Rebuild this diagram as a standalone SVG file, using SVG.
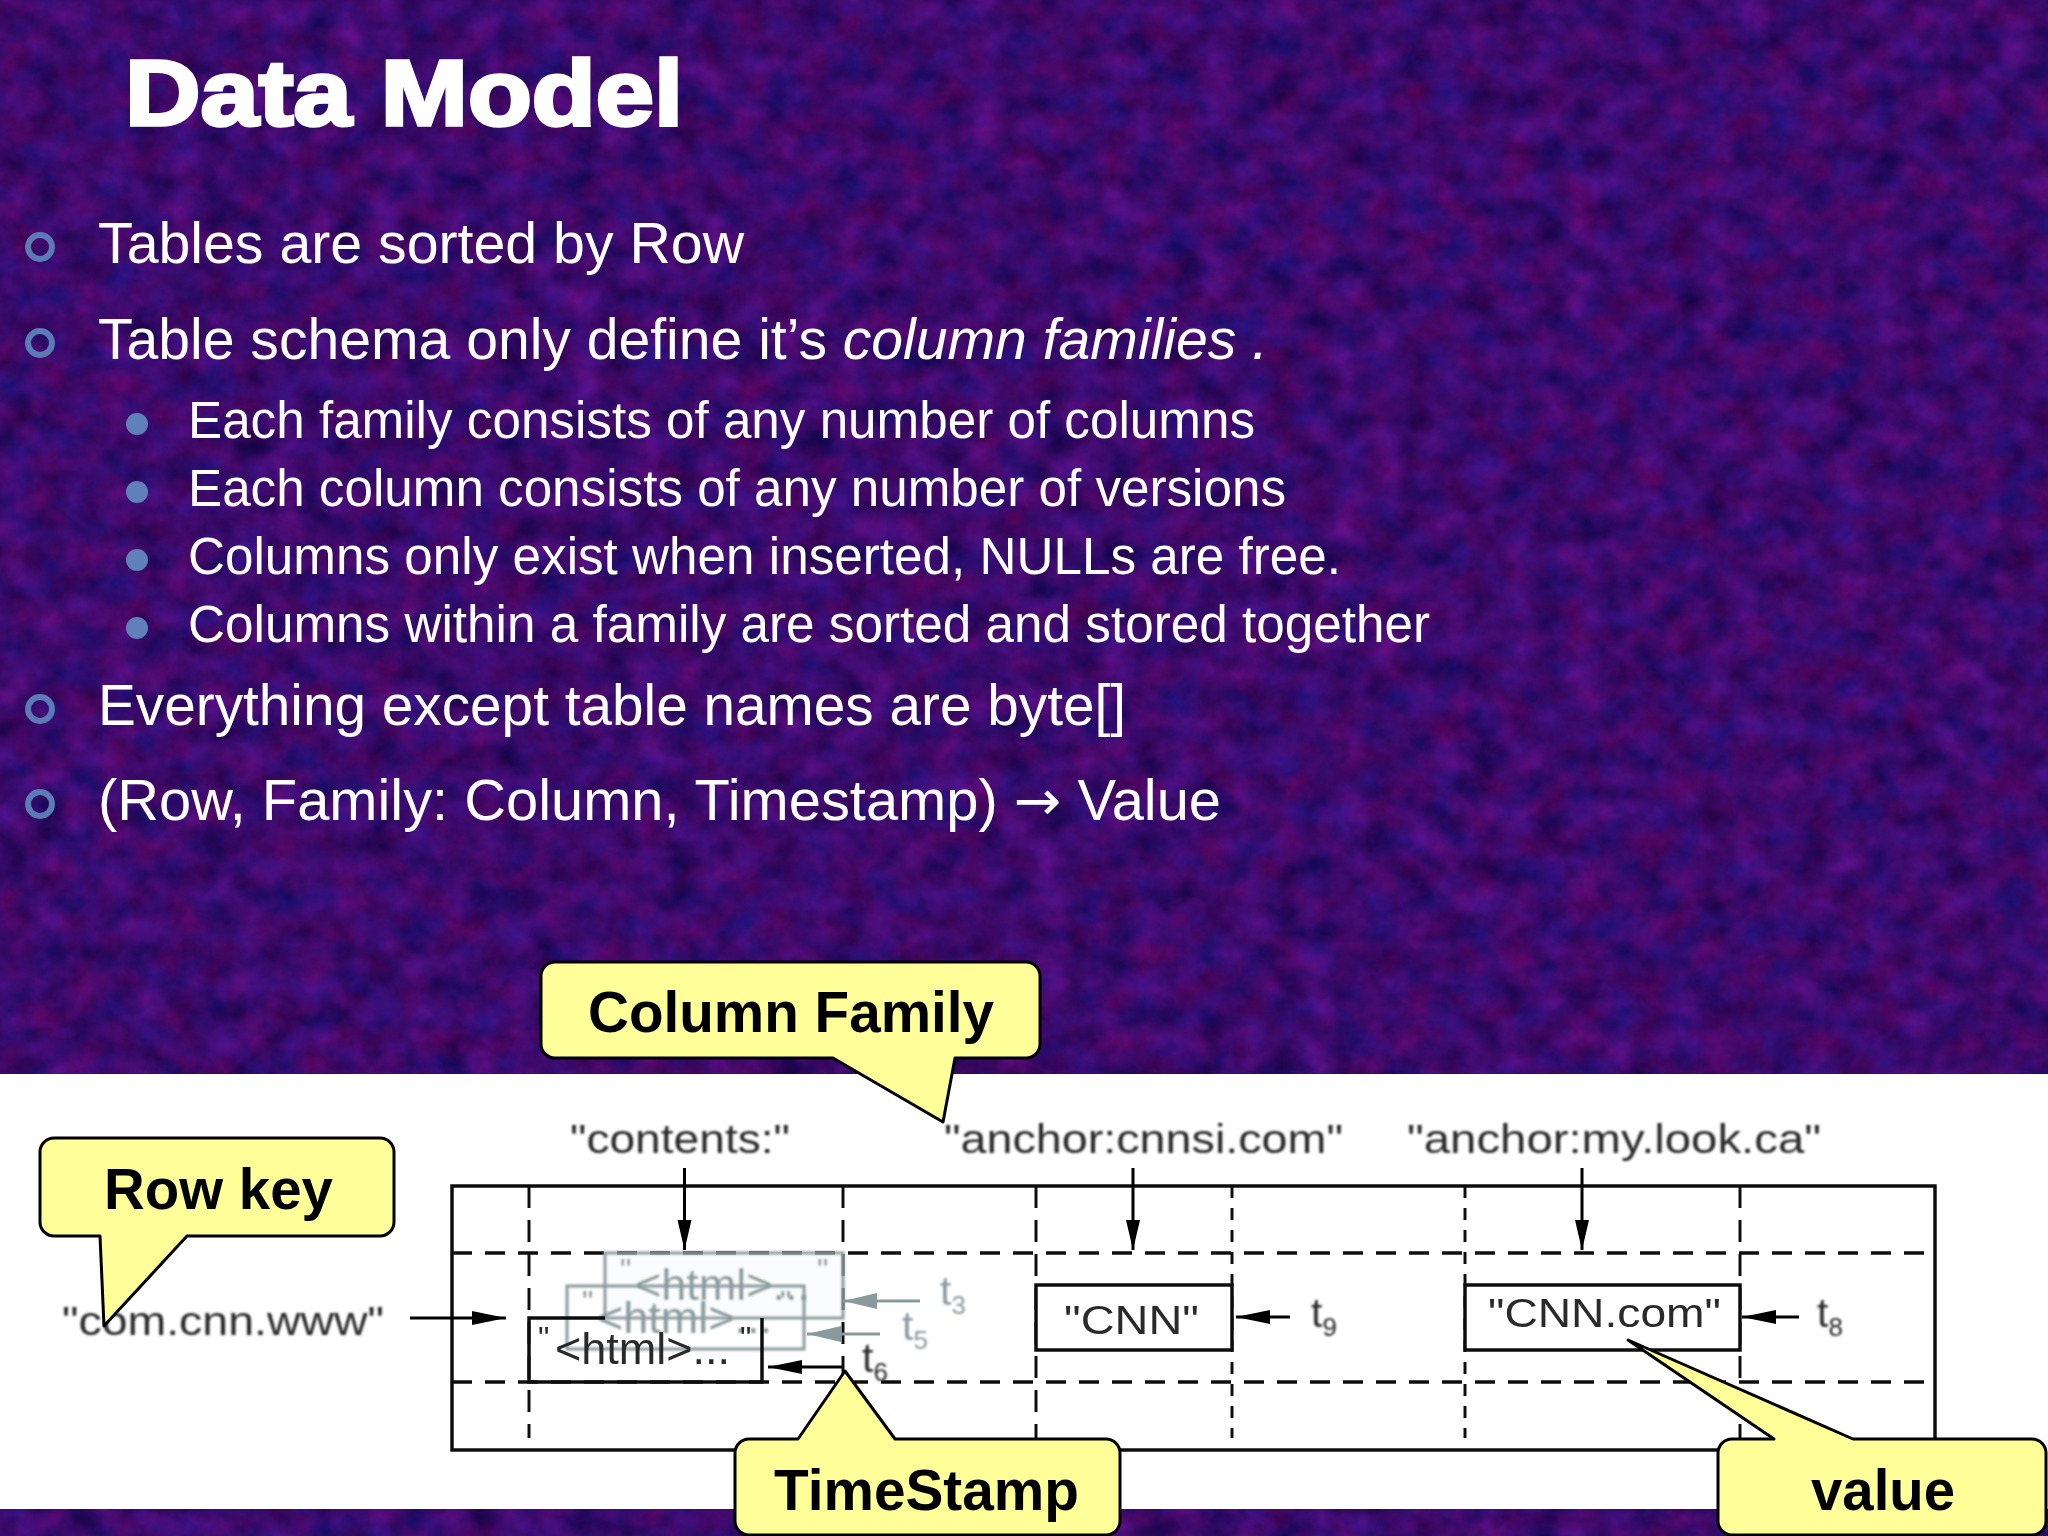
<svg xmlns="http://www.w3.org/2000/svg" width="2048" height="1536" viewBox="0 0 2048 1536">
<defs>
<filter id="tex" x="0" y="0" width="100%" height="100%" color-interpolation-filters="sRGB">
<feTurbulence type="fractalNoise" baseFrequency="0.03 0.035" numOctaves="5" seed="7"/>
<feColorMatrix type="matrix" values="0.36 0.08 0 0 0.01  0 0.08 0 0 0  0.1 0.3 0 0 0.22  0 0 0 0 1"/>
</filter>
<filter id="soft" x="-5%" y="-5%" width="110%" height="110%"><feGaussianBlur stdDeviation="0.8"/></filter>
<filter id="crisp" x="-5%" y="-5%" width="110%" height="110%"><feGaussianBlur stdDeviation="0.45"/></filter>
<marker id="headK" markerUnits="userSpaceOnUse" markerWidth="30" markerHeight="16" refX="30" refY="8" orient="auto"><path d="M0 1L30 8L0 15Z" fill="#000"/></marker>
<marker id="headW" markerUnits="userSpaceOnUse" markerWidth="34" markerHeight="16" refX="34" refY="8" orient="auto"><path d="M0 1L34 8L0 15Z" fill="#000"/></marker>
<marker id="headG" markerUnits="userSpaceOnUse" markerWidth="34" markerHeight="18" refX="34" refY="9" orient="auto"><path d="M0 1L34 9L0 17Z" fill="#8a9a9c"/></marker>
</defs>
<style>
.h{font-family:"Liberation Sans",Arial,sans-serif;fill:#fff}
.l1{font-size:57px}
.l2{font-size:51px}
.ring{fill:none;stroke:#5b7ab6;stroke-width:6}
.dot{fill:#6080ba}
.p{font-family:"Liberation Sans",Arial,sans-serif;font-size:41px;fill:#2a2a2a}
.pg{fill:#8a9a9c}
.sub{font-size:26px}
.solid{stroke:#111;stroke-width:3.5;fill:none}
.dash{stroke:#111;stroke-width:3.5;fill:none;stroke-dasharray:20 13}
.dd{stroke:#111;stroke-width:3;fill:none;stroke-dasharray:12 10}
.vd{stroke:#111;stroke-width:3;fill:none;stroke-dasharray:22 12}
.cell{fill:#fff;stroke:#111;stroke-width:3.5}
.gbox{fill:#f1f6f8;fill-opacity:.35;stroke:#8a9a9c;stroke-width:3}
.gline{fill:none;stroke:#8a9a9c;stroke-width:3}
.arr{stroke:#000;stroke-width:3;fill:none;marker-end:url(#headK)}
.arw{stroke:#000;stroke-width:3;fill:none;marker-end:url(#headW)}
.arg{stroke:#8a9a9c;stroke-width:3;fill:none;marker-end:url(#headG)}
.call{fill:#ffff99;stroke:#000;stroke-width:3;stroke-linejoin:round}
.ct{font-family:"Liberation Sans",Arial,sans-serif;font-weight:700;font-size:58px;fill:#000}
</style>
<rect id="background" width="2048" height="1536" fill="#3d0a78"/>
<rect width="2048" height="1536" filter="url(#tex)"/>
<rect id="band" x="0" y="1074" width="2048" height="435" fill="#fff"/>
<text id="title" class="h" x="125" y="125" font-size="92" font-weight="700" stroke="#fff" stroke-width="3.5" stroke-linejoin="miter" textLength="558" lengthAdjust="spacingAndGlyphs">Data Model</text>
<g id="bullets">
<circle class="ring" cx="40" cy="247" r="12"/><text class="h l1" x="98" y="263" textLength="646" lengthAdjust="spacingAndGlyphs">Tables are sorted by Row</text>
<circle class="ring" cx="40" cy="343" r="12"/><text class="h l1" x="98" y="359" textLength="1170" lengthAdjust="spacingAndGlyphs">Table schema only define it’s <tspan font-style="italic">column families .</tspan></text>
<circle class="dot" cx="137" cy="424" r="11"/><text class="h l2" x="188" y="438" textLength="1067" lengthAdjust="spacingAndGlyphs">Each family consists of any number of columns</text>
<circle class="dot" cx="137" cy="492" r="11"/><text class="h l2" x="188" y="506" textLength="1098" lengthAdjust="spacingAndGlyphs">Each column consists of any number of versions</text>
<circle class="dot" cx="137" cy="560" r="11"/><text class="h l2" x="188" y="574" textLength="1153" lengthAdjust="spacingAndGlyphs">Columns only exist when inserted, NULLs are free.</text>
<circle class="dot" cx="137" cy="628" r="11"/><text class="h l2" x="188" y="642" textLength="1242" lengthAdjust="spacingAndGlyphs">Columns within a family are sorted and stored together</text>
<circle class="ring" cx="40" cy="709" r="12"/><text class="h l1" x="98" y="725" textLength="1028" lengthAdjust="spacingAndGlyphs">Everything except table names are byte[]</text>
<circle class="ring" cx="40" cy="804" r="12"/><text class="h l1" x="98" y="820" textLength="1123" lengthAdjust="spacingAndGlyphs">(Row, Family: Column, Timestamp) <tspan font-family="'DejaVu Sans',sans-serif" font-size="56">→</tspan> Value</text>
</g>
<g id="table" filter="url(#crisp)">
<rect class="solid" x="452" y="1186" width="1483" height="264"/>
<line class="dash" x1="452" y1="1253" x2="1935" y2="1253"/>
<line class="dash" x1="452" y1="1382" x2="1935" y2="1382"/>
<line class="vd" x1="529" y1="1186" x2="529" y2="1438"/>
<line class="vd" x1="843" y1="1186" x2="843" y2="1438"/>
<line class="vd" x1="1036" y1="1186" x2="1036" y2="1438"/>
<line class="dd" x1="1232" y1="1186" x2="1232" y2="1438"/>
<line class="dd" x1="1465" y1="1186" x2="1465" y2="1438"/>
<line class="vd" x1="1740" y1="1186" x2="1740" y2="1438"/>
</g>
<g id="labels" filter="url(#soft)">
<text class="p" x="570" y="1153" textLength="220" lengthAdjust="spacingAndGlyphs">"contents:"</text>
<text class="p" x="944" y="1153" textLength="399" lengthAdjust="spacingAndGlyphs">"anchor:cnnsi.com"</text>
<text class="p" x="1407" y="1153" textLength="414" lengthAdjust="spacingAndGlyphs">"anchor:my.look.ca"</text>
<text class="p" x="62" y="1335" textLength="322" lengthAdjust="spacingAndGlyphs">"com.cnn.www"</text>
</g>
<g id="cell-t3" filter="url(#soft)">
<path class="gbox" d="M605 1318V1253H843V1318Z"/>
<text class="p pg"><tspan x="620" y="1281" font-size="32">"</tspan><tspan x="635" y="1300" font-size="45">&lt;html&gt;...</tspan><tspan x="817" y="1281" font-size="32">"</tspan></text>
</g>
<g id="cell-t5" filter="url(#soft)">
<rect class="gline" x="567" y="1286" width="237" height="63"/>
<text class="p pg"><tspan x="582" y="1313" font-size="32">"</tspan><tspan x="597" y="1333" font-size="45">&lt;html&gt;...</tspan><tspan x="780" y="1313" font-size="32">"</tspan></text>
</g>
<g id="cell-t6" filter="url(#crisp)">
<path class="solid" d="M605 1318H529V1382H762V1318"/>
<text class="p"><tspan x="538" y="1349" font-size="32">"</tspan><tspan x="555" y="1364" font-size="45">&lt;html&gt;...</tspan><tspan x="740" y="1349" font-size="32">"</tspan></text>
</g>
<g id="cell-cnn" filter="url(#crisp)">
<rect class="cell" x="1036" y="1285" width="196" height="65"/>
<text class="p" x="1064" y="1334" textLength="135" lengthAdjust="spacingAndGlyphs">"CNN"</text>
</g>
<g id="cell-cnncom" filter="url(#crisp)">
<rect class="cell" x="1465" y="1285" width="275" height="65"/>
<text class="p" x="1488" y="1327" textLength="233" lengthAdjust="spacingAndGlyphs">"CNN.com"</text>
</g>
<g id="timestamps" filter="url(#soft)">
<text class="p pg" x="940" y="1305">t<tspan class="sub" dy="9">3</tspan></text>
<text class="p pg" x="902" y="1340">t<tspan class="sub" dy="9">5</tspan></text>
<text class="p" x="862" y="1372" fill="#555">t<tspan class="sub" dy="9">6</tspan></text>
<text class="p" x="1311" y="1327" fill="#555">t<tspan class="sub" dy="9">9</tspan></text>
<text class="p" x="1817" y="1327" fill="#555">t<tspan class="sub" dy="9">8</tspan></text>
</g>
<g id="connectors" filter="url(#crisp)">
<line class="arr" x1="684.500" y1="1168" x2="684.500" y2="1250"/>
<line class="arr" x1="1133" y1="1168" x2="1133" y2="1250"/>
<line class="arr" x1="1582" y1="1168" x2="1582" y2="1250"/>
<line class="arw" x1="410" y1="1318" x2="506" y2="1318"/>
<line class="arg" x1="920" y1="1301" x2="843" y2="1301"/>
<line class="arg" x1="880" y1="1334" x2="807" y2="1334"/>
<line class="arw" x1="842" y1="1367" x2="768" y2="1367"/>
<line class="arw" x1="1290" y1="1317" x2="1236" y2="1317"/>
<line class="arw" x1="1799" y1="1317" x2="1742" y2="1317"/>
</g>
<g id="callout-column-family">
<path class="call" d="M555 962H1026A14 14 0 0 1 1040 976V1044A14 14 0 0 1 1026 1058H955L943 1122L833 1058H555A14 14 0 0 1 541 1044V976A14 14 0 0 1 555 962Z"/>
<text class="ct" x="588" y="1032" textLength="406" lengthAdjust="spacingAndGlyphs">Column Family</text>
</g>
<g id="callout-row-key">
<path class="call" d="M54 1138H380A14 14 0 0 1 394 1152V1222A14 14 0 0 1 380 1236H187L104 1326L100 1236H54A14 14 0 0 1 40 1222V1152A14 14 0 0 1 54 1138Z"/>
<text class="ct" x="104" y="1209" textLength="229" lengthAdjust="spacingAndGlyphs">Row key</text>
</g>
<g id="callout-timestamp">
<path class="call" d="M749 1439H798L845 1371L895 1439H1106A14 14 0 0 1 1120 1453V1521A14 14 0 0 1 1106 1535H749A14 14 0 0 1 735 1521V1453A14 14 0 0 1 749 1439Z"/>
<text class="ct" x="774" y="1510" textLength="305" lengthAdjust="spacingAndGlyphs">TimeStamp</text>
</g>
<g id="callout-value">
<path class="call" d="M1732 1439H1774L1628 1340L1853 1439H2032A14 14 0 0 1 2046 1453V1521A14 14 0 0 1 2032 1535H1732A14 14 0 0 1 1718 1521V1453A14 14 0 0 1 1732 1439Z"/>
<text class="ct" x="1811" y="1510" textLength="144" lengthAdjust="spacingAndGlyphs">value</text>
</g>
</svg>
